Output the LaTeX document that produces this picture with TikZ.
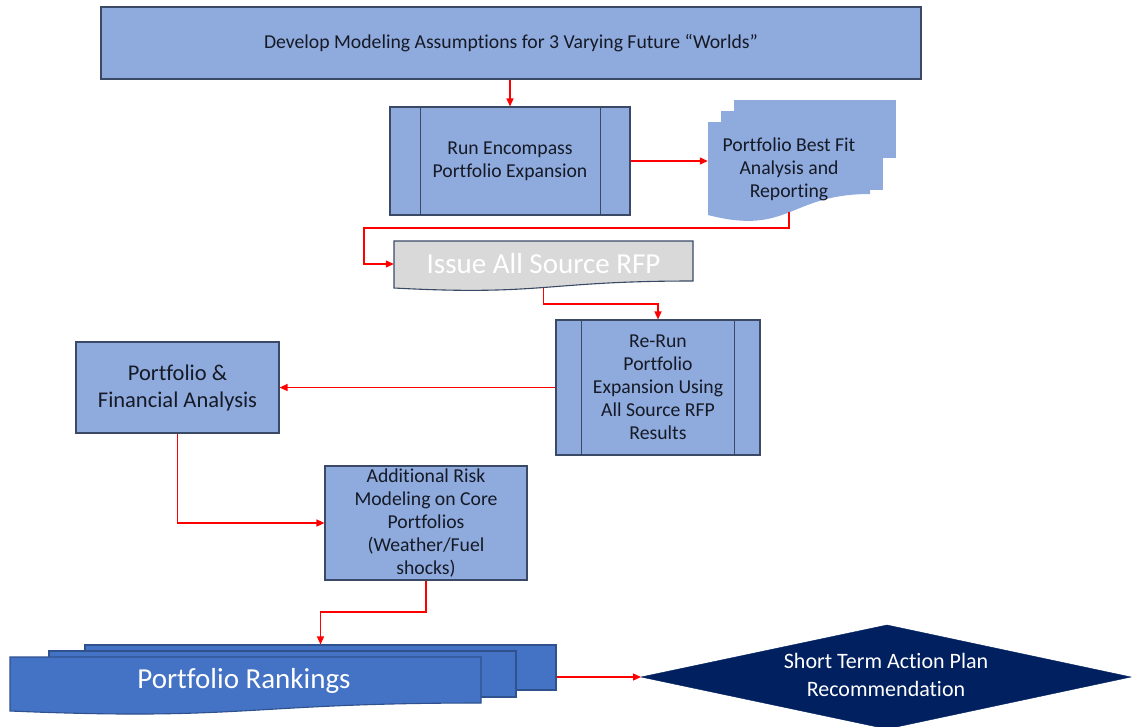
\documentclass[tikz,border=0pt]{standalone}
\usepackage{fontspec}
\setmainfont{Carlito}[Ligatures=NoCommon]
\usetikzlibrary{arrows.meta,calc}
\definecolor{boxc}{HTML}{8FAADC}
\definecolor{bordc}{HTML}{3A4A66}
\definecolor{rfpc}{HTML}{D9D9D9}
\definecolor{rankc}{HTML}{4472C4}
\definecolor{rankb}{HTML}{2F528F}
\definecolor{navy}{HTML}{002060}
\definecolor{txtc}{HTML}{151A26}
\definecolor{arrc}{HTML}{FF0000}
\newcommand\fbody{\fontsize{19.7}{23}\selectfont}
\newcommand\fmid{\fontsize{22.5}{27}\selectfont}
\newcommand\fbig{\fontsize{29}{34}\selectfont}
\newcommand\fdia{\fontsize{22}{28}\selectfont}
\begin{document}
\begin{tikzpicture}[x=1pt,y=-1pt,
 box/.style={draw=bordc,fill=boxc,line width=1.1pt,text=txtc,align=center,inner sep=0pt,font=\fbody},
 procline/.style={draw=bordc,line width=1.1pt},
 arr/.style={draw=arrc,line width=1.2pt,-{Triangle[length=8pt,width=7pt]}},
 lbl/.style={inner sep=0pt,align=center,text=txtc,font=\fbody}]
\useasboundingbox (0,0) rectangle (1134,726);

% top box
\node[box,minimum width=820pt,minimum height=72pt] (top) at (511,43) {Develop Modeling Assumptions for 3 Varying Future “Worlds”};

% run encompass
\node[box,minimum width=240pt,minimum height=108pt] (run) at (510,161) {Run Encompass\\Portfolio Expansion};
\draw[procline] ([xshift=31pt]run.north west) -- ([xshift=31pt]run.south west);
\draw[procline] ([xshift=-30pt]run.north east) -- ([xshift=-30pt]run.south east);

% multi document
\fill[boxc] (734,100) rectangle (896,158);
\fill[boxc] (721,111) rectangle (883,190);
\fill[boxc] (708,122) -- (870,122) -- (870,194) .. controls (789,194) and (789,236) .. (708,215) -- cycle;
\node[lbl,minimum width=162pt,minimum height=93pt] (md) at (789,169.5) {Portfolio Best Fit\\Analysis and\\Reporting};
\coordinate (mdbot) at (789,212);

% RFP document
\filldraw[fill=rfpc,draw=bordc,line width=1.1pt] (394,241) -- (693,241) -- (693,281) .. controls (543.5,281) and (543.5,296) .. (394,288) -- cycle;
\node[inner sep=0pt,text=white,font=\fbig,minimum width=299pt,minimum height=40pt] (rfp) at (543.5,264) {Issue All Source RFP};
\coordinate (rfpbot) at (543.5,287.5);

% re-run
\node[box,minimum width=204pt,minimum height=135pt] (rerun) at (658,387.5) {Re-Run\\Portfolio\\Expansion Using\\All Source RFP\\Results};
\draw[procline] ([xshift=26pt]rerun.north west) -- ([xshift=26pt]rerun.south west);
\draw[procline] ([xshift=-26pt]rerun.north east) -- ([xshift=-26pt]rerun.south east);

% portfolio & financial
\node[box,font=\fmid,minimum width=203pt,minimum height=91pt] (pf) at (177.5,387.5) {Portfolio \&\\Financial Analysis};

% additional risk
\node[box,minimum width=202pt,minimum height=114pt] (ar) at (426,523) {Additional Risk\\Modeling on Core\\Portfolios\\(Weather/Fuel\\shocks)};

% rankings stack
\node[draw=rankb,fill=rankc,line width=1.1pt,minimum width=471pt,minimum height=45pt,inner sep=0pt] (rankback) at (320.5,667.5) {};
\node[draw=rankb,fill=rankc,line width=1.1pt,minimum width=467pt,minimum height=46pt,inner sep=0pt] (rankmid) at (282.5,674) {};
\filldraw[fill=rankc,draw=rankb,line width=1.1pt] (10,657) -- (481,657) -- (481,703) .. controls (245.5,703) and (245.5,721) .. (10,711) -- cycle;
\node[inner sep=0pt,text=white,font=\fbig] (rank) at (244,681) {Portfolio Rankings};

% diamond
\filldraw[fill=navy,draw=navy] (641,677) -- (887,625) -- (1131,677) -- (887,729) -- cycle;
\node[inner sep=0pt,align=center,text=white,font=\fdia] (dia) at (886,675) {Short Term Action Plan\\Recommendation};
\coordinate (diaw) at (641,677);

% connectors
\coordinate (c1) at (364,228);
\coordinate (c2) at (543.5,304);
\coordinate (c3) at (426,612);
\draw[arr] (top.south -| run.north) -- (run.north);
\draw[arr] (run.east) -- (run.east -| md.west);
\draw[arr] (mdbot) |- (c1) |- (rfp.west);
\draw[arr] (rfpbot) -- (c2) -| (rerun.north);
\draw[arr] (rerun.west) -- (pf.east);
\draw[arr] (pf.south) |- (ar.west);
\draw[arr] (ar.south) -- (c3) -| (rankback.north);
\draw[arr] (rankback.east |- diaw) -- (diaw);
\end{tikzpicture}
\end{document}
